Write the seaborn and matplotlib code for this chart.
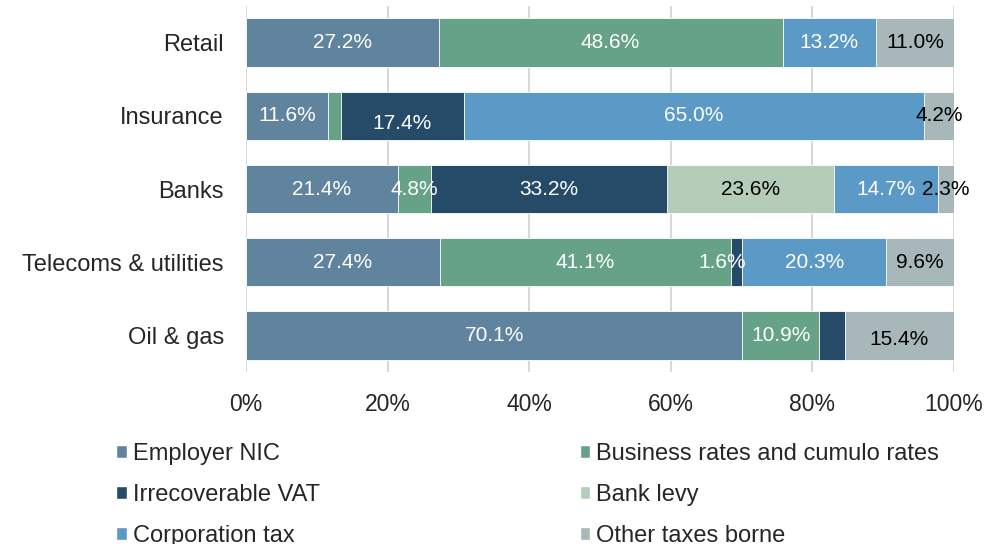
import numpy as np
import matplotlib.pyplot as plt
import seaborn as sns
from matplotlib.patches import Patch

# Share of total taxes borne, by sector (%)
sectors = ["Retail", "Insurance", "Banks", "Telecoms & utilities", "Oil & gas"]
employer_nic = [27.2, 11.6, 21.4, 27.4, 70.1]
business_rates = [48.6, 1.8, 4.8, 41.1, 10.9]
irrecoverable_vat = [0.0, 17.4, 33.2, 1.6, 3.6]
bank_levy = [0.0, 0.0, 23.6, 0.0, 0.0]
corporation_tax = [13.2, 65.0, 14.7, 20.3, 0.0]
other_taxes = [11.0, 4.2, 2.3, 9.6, 15.4]

series_names = ["Employer NIC", "Business rates and cumulo rates", "Irrecoverable VAT",
                "Bank levy", "Corporation tax", "Other taxes borne"]
series_values = [employer_nic, business_rates, irrecoverable_vat,
                 bank_levy, corporation_tax, other_taxes]
colors = ["#61849e", "#65a287", "#264b69", "#b5cdb8", "#5b99c6", "#a8b7b9"]
label_colors = ["white", "white", "white", "black", "white", "black"]
# segments without a data label in the original
hidden = {("Insurance", "Business rates and cumulo rates"), ("Oil & gas", "Irrecoverable VAT")}
# a few labels sit slightly off-centre in the original (dx in %, dy in rows)
nudges = {("Insurance", "Irrecoverable VAT"): (0, 0.1),
          ("Oil & gas", "Other taxes borne"): (0, 0.05),
          ("Telecoms & utilities", "Irrecoverable VAT"): (-2, 0)}

sns.set_theme(style="white")
plt.rcParams['font.family'] = ['Liberation Sans', 'DejaVu Sans']

fig, ax = plt.subplots(figsize=(9.86, 5.44), dpi=100)
fig.subplots_adjust(left=0.2495, right=0.9675, top=0.989, bottom=0.316)

vals = np.array(series_values)
cum = vals.cumsum(axis=0)

# stacked bars: draw running totals from the largest down
for i in reversed(range(len(series_names))):
    sns.barplot(x=cum[i], y=sectors, orient="h", color=colors[i], saturation=1,
                width=0.66, edgecolor="white", linewidth=0.6, ax=ax)

# data labels
for i, name in enumerate(series_names):
    for j, sector in enumerate(sectors):
        v = vals[i, j]
        if v <= 0 or (sector, name) in hidden:
            continue
        dx, dy = nudges.get((sector, name), (0, 0))
        ax.text(cum[i, j] - v / 2 + dx, j + dy, f"{v:.1f}%", ha="center", va="center",
                fontsize=15, color=label_colors[i])

ax.set_xlim(0, 100)
ax.set_ylim(4.5, -0.5)
ax.set_xticks(range(0, 101, 20))
ax.set_xticklabels([f"{t}%" for t in range(0, 101, 20)])
ax.xaxis.grid(True, color="#d9d9d9", linewidth=1.5)
ax.set_axisbelow(True)
ax.set_xlabel("")
ax.set_ylabel("")
ax.tick_params(axis="y", length=0, pad=16, labelsize=17)
ax.tick_params(axis="x", length=0, pad=15, labelsize=16.5)
sns.despine(left=True, bottom=True)

handles = [Patch(facecolor=c) for c in colors]
order = [0, 2, 4, 1, 3, 5]
fig.legend([handles[k] for k in order], [series_names[k] for k in order],
           ncol=2, loc="upper left", bbox_to_anchor=(0.118, 0.186), frameon=False,
           fontsize=17, handlelength=0.45, handleheight=0.45, handletextpad=0.25,
           columnspacing=11.0, labelspacing=0.8, borderpad=0, borderaxespad=0)

plt.savefig("out.png", dpi=100)
